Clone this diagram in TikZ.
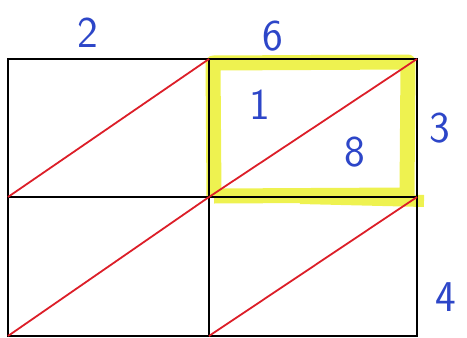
\documentclass[tikz,border=0pt]{standalone}
\usetikzlibrary{positioning,calc}

\definecolor{penblue}{RGB}{45,70,200}
\definecolor{penred}{RGB}{220,30,40}
\definecolor{marker}{RGB}{238,242,80}

\tikzset{
  cell/.style={rectangle,draw,inner sep=0pt,outer sep=0pt,minimum height=138pt},
  diag/.style={draw=penred,line width=1.8pt},
  digit/.style={text=penblue,font=\sffamily\fontsize{44}{44}\selectfont,inner sep=0pt},
  highlight/.style={draw=marker,line width=15pt,line join=round}
}

\begin{document}
\begin{tikzpicture}[x=1pt,y=-1pt]
  \useasboundingbox (0,0) rectangle (467,338);
  % yellow marker round the top right box
  \draw[highlight] (214,196) -- (213,63) -- (408,62) -- (407,195) -- (214,196);
  \draw[highlight,line width=12pt] (300,198) -- (424,201);
  % grid
  \node[cell,line width=1.6pt,minimum width=201pt,minimum height=139pt] (c) at (108.5,266.5) {};
  \node[cell,line width=1.6pt,minimum width=208pt,minimum height=139pt,right=0pt of c] (d) {};
  \node[cell,line width=2.6pt,minimum width=201pt,above=0pt of c] (a) {};
  \node[cell,line width=2.6pt,minimum width=208pt,right=0pt of a] (b) {};
  \draw[diag] (a.south west) -- (a.north east);
  \draw[diag] (b.south west) -- (b.north east);
  \draw[diag] (c.south west) -- (c.north east);
  \draw[diag] (d.south west) -- (d.north east);
  % digits
  \node[digit] (top1) at (88,33) {2};
  \node[digit] (top2) at (273,36) {6};
  \node[digit] (side1) at (440,128) {3};
  \node[digit] (side2) at (446,297) {4};
  \node[digit] (tens) at (260,105) {1};
  \node[digit] (units) at (355,152) {8};
\end{tikzpicture}
\end{document}
